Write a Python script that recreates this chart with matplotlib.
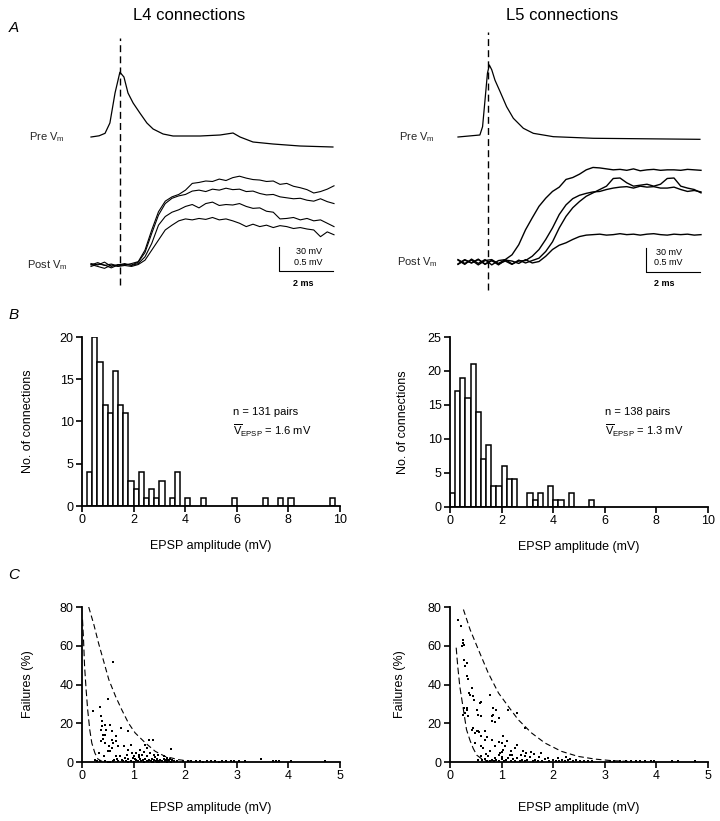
import matplotlib
matplotlib.use("Agg")
import matplotlib.pyplot as plt

plt.rcParams["font.family"] = ["Liberation Sans", "DejaVu Sans"]
plt.rcParams["mathtext.fontset"] = "custom"
plt.rcParams["mathtext.rm"] = "Liberation Sans"
plt.rcParams["mathtext.it"] = "Liberation Sans:italic"

W, H = 720, 821

# ---- A: example traces (time in ms, pre in mV, post in mV) ----
T_POST = [0.0, 0.25, 0.5, 0.75, 1.0, 1.25, 1.5, 1.75, 2.0, 2.25, 2.5, 2.75,
          3.0, 3.25, 3.5, 3.75, 4.0, 4.25, 4.5, 4.75, 5.0, 5.25, 5.5, 5.75,
          6.0, 6.25, 6.5, 6.75, 7.0, 7.25, 7.5, 7.75, 8.0, 8.25, 8.5, 8.75, 9.0]

L4_PRE_T = [0.0, 0.3, 0.52, 0.70, 0.89, 1.07, 1.22, 1.37, 1.56, 1.81, 2.07,
            2.30, 2.67, 3.04, 4.04, 4.78, 5.26, 5.52, 6.0, 6.74, 7.74, 8.96]
L4_PRE_V = [0, 1.5, 4.6, 17.5, 55, 81, 75, 55, 42.5, 30, 17.5,
            10, 3.75, 1.25, 1.25, 2.5, 5, 0, -6.25, -8.75, -11.25, -12.5]
L4_POST = [
    [0.03, 0.00, 0.06, -0.03, 0.01, 0.00, 0.03, 0.07, 0.31, 0.73, 1.11, 1.33,
     1.42, 1.47, 1.56, 1.70, 1.72, 1.75, 1.74, 1.79, 1.76, 1.82, 1.85, 1.81,
     1.78, 1.77, 1.74, 1.75, 1.68, 1.70, 1.64, 1.61, 1.57, 1.50, 1.53, 1.58, 1.65],
    [0.00, 0.05, -0.01, 0.02, -0.02, 0.01, 0.00, 0.06, 0.26, 0.66, 1.04, 1.28,
     1.39, 1.44, 1.47, 1.54, 1.56, 1.53, 1.58, 1.56, 1.60, 1.57, 1.58, 1.53,
     1.54, 1.49, 1.46, 1.47, 1.42, 1.40, 1.38, 1.39, 1.35, 1.33, 1.38, 1.32, 1.28],
    [-0.03, 0.02, 0.00, -0.06, 0.00, 0.03, -0.01, 0.03, 0.17, 0.45, 0.83, 1.01,
     1.10, 1.15, 1.22, 1.26, 1.19, 1.28, 1.31, 1.24, 1.26, 1.25, 1.28, 1.22,
     1.18, 1.19, 1.12, 1.10, 0.96, 0.97, 0.99, 0.94, 0.97, 0.92, 0.94, 0.87, 0.80],
    [0.01, -0.03, -0.07, 0.00, -0.03, -0.01, -0.03, 0.01, 0.10, 0.31, 0.52, 0.73,
     0.83, 0.92, 0.96, 0.94, 0.97, 0.95, 0.99, 0.94, 0.96, 0.92, 0.87, 0.80,
     0.85, 0.80, 0.83, 0.78, 0.82, 0.80, 0.76, 0.78, 0.75, 0.73, 0.59, 0.69, 0.63],
]

L5_PRE_T = [0.0, 0.81, 0.91, 1.0, 1.09, 1.16, 1.25, 1.37, 1.56, 1.80, 2.05,
            2.42, 2.79, 3.53, 5.01, 8.96]
L5_PRE_V = [0, 2.5, 12.9, 46, 79.6, 90, 84, 71, 56.6, 37.9, 23.4,
            10.9, 4.6, 0.4, -1.6, -2.9]
L5_POST = [
    [0.04, -0.05, 0.06, -0.03, 0.05, -0.06, 0.03, 0.05, 0.15, 0.36, 0.67, 0.92,
     1.16, 1.33, 1.47, 1.56, 1.72, 1.76, 1.83, 1.92, 1.97, 1.96, 1.94, 1.92,
     1.93, 1.91, 1.94, 1.90, 1.92, 1.93, 1.91, 1.92, 1.92, 1.91, 1.93, 1.92, 1.91],
    [-0.04, 0.05, -0.02, 0.06, -0.05, 0.03, -0.03, 0.05, -0.04, 0.02, 0.03, 0.12,
     0.26, 0.47, 0.71, 0.99, 1.19, 1.32, 1.39, 1.43, 1.46, 1.47, 1.51, 1.54,
     1.56, 1.57, 1.54, 1.58, 1.56, 1.57, 1.54, 1.54, 1.56, 1.51, 1.47, 1.49, 1.46],
    [0.05, -0.03, 0.04, -0.06, 0.03, 0.05, -0.04, 0.02, -0.05, 0.04, -0.02, 0.03,
     0.08, 0.22, 0.42, 0.71, 0.95, 1.13, 1.26, 1.37, 1.44, 1.51, 1.58, 1.74,
     1.75, 1.65, 1.58, 1.60, 1.62, 1.58, 1.62, 1.74, 1.75, 1.58, 1.54, 1.51, 1.44],
    [-0.05, 0.04, -0.02, 0.05, -0.04, 0.03, -0.06, 0.04, 0.02, -0.03, 0.05, -0.02,
     0.01, 0.12, 0.26, 0.35, 0.40, 0.47, 0.53, 0.56, 0.57, 0.58, 0.56, 0.57,
     0.59, 0.57, 0.58, 0.56, 0.58, 0.59, 0.57, 0.56, 0.58, 0.57, 0.58, 0.56, 0.57],
]

# ---- B: amplitude histograms (0.2 mV bins, left edges) ----
L4_BIN_LEFT = [0.2, 0.4, 0.6, 0.8, 1.0, 1.2, 1.4, 1.6, 1.8, 2.0, 2.2, 2.4, 2.6,
               2.8, 3.0, 3.4, 3.6, 4.0, 4.6, 5.8, 7.0, 7.6, 8.0, 9.6]
L4_COUNTS = [4, 20, 17, 12, 11, 16, 12, 11, 3, 2, 4, 1, 2,
             1, 3, 1, 4, 1, 1, 1, 1, 1, 1, 1]
L5_BIN_LEFT = [0.0, 0.2, 0.4, 0.6, 0.8, 1.0, 1.2, 1.4, 1.6, 1.8, 2.0, 2.2, 2.4,
               3.0, 3.2, 3.4, 3.8, 4.0, 4.2, 4.6, 5.4]
L5_COUNTS = [2, 17, 19, 16, 21, 14, 7, 9, 3, 3, 6, 4, 4,
             2, 1, 2, 3, 1, 1, 2, 1]

# ---- C: failures vs amplitude (mV, %) ----
L4_POINTS = [
    (0.61, 51.6), (0.50, 32.7), (0.21, 26.2), (0.34, 28.4), (0.37, 23.9), (0.39, 21),
    (0.44, 19.3), (0.55, 19.3), (0.37, 16.7), (0.40, 14), (0.45, 14), (0.37, 10.7),
    (0.44, 9.8), (0.58, 15.8), (0.65, 13.3), (0.75, 17.6), (0.89, 15.8), (0.52, 8.1),
    (0.55, 5.5), (0.58, 11.5), (0.70, 8.4), (0.81, 8.1), (0.95, 9), (0.97, 4.6),
    (1.13, 6.4), (1.23, 9), (1.29, 11.5), (1.37, 11.5), (1.26, 7.2), (1.16, 3.8),
    (1.32, 4.6), (1.48, 3.8), (1.72, 6.7), (0.42, 2.9), (0.32, 4.6), (0.65, 2.9),
    (0.74, 2.9), (0.84, 2.0), (0.26, 1.2), (0.41, 12), (0.46, 16.5), (0.39, 18.5),
    (0.61, 9.8), (0.66, 10.7), (0.58, 7.2), (0.50, 5.5), (0.90, 6.4), (1.00, 2.9),
    (1.10, 3.8), (1.26, 2.9), (1.39, 3.8), (1.58, 2.9), (1.65, 2.0),
    (0.35, 0.3), (0.45, 0.5), (0.55, 0.2), (0.62, 1.0), (0.70, 0.5), (0.78, 1.2),
    (0.85, 0.3), (0.90, 1.5), (0.95, 0.6), (1.00, 0.2), (1.02, 1.3), (1.05, 0.8),
    (1.08, 0.3), (1.12, 1.5), (1.15, 0.5), (1.18, 1.0), (1.20, 0.2), (1.22, 1.8),
    (1.25, 0.7), (1.28, 0.3), (1.30, 1.2), (1.33, 0.5), (1.36, 1.6), (1.38, 0.2),
    (1.40, 0.9), (1.43, 0.4), (1.45, 1.4), (1.48, 0.6), (1.50, 0.2), (1.52, 1.1),
    (1.55, 0.5), (1.58, 1.5), (1.60, 0.3), (1.63, 0.8), (1.66, 1.2), (1.68, 0.4),
    (1.70, 1.6), (1.72, 0.2), (1.75, 0.9), (0.90, 0.2), (0.98, 2.2), (1.10, 2.4),
    (1.95, 0.4), (2.05, 0.3), (2.12, 0.5), (2.20, 0.3), (2.28, 0.4), (2.35, 0.2),
    (2.42, 0.5), (2.50, 0.3), (2.58, 0.4), (2.65, 0.2), (2.72, 0.5), (2.80, 0.3),
    (2.88, 0.4), (2.95, 0.3), (3.05, 0.5), (3.15, 0.3),
    (3.46, 1.5), (3.70, 0.7), (3.76, 0.7), (3.82, 0.6), (4.05, 0.3), (4.70, 0.7),
    (0.50, 0.2), (0.60, 0.4), (0.80, 0.6), (1.35, 0.2), (1.45, 0.2), (1.65, 0.2),
    (1.78, 0.5), (1.85, 0.3), (0.68, 1.8), (0.88, 3.5), (1.05, 4.4), (1.20, 5.2),
    (1.42, 2.5), (0.30, 0.3),
]
L5_POINTS = [
    (0.16, 73.5), (0.21, 70), (0.26, 62.8), (0.27, 60.6), (0.24, 59.7), (0.28, 52.8),
    (0.32, 51.1), (0.30, 49.4), (0.32, 44.2), (0.35, 42.9), (0.42, 38.2), (0.39, 34.8),
    (0.45, 33.9), (0.47, 32.2), (0.61, 30.8), (0.77, 34.8), (0.28, 27.9), (0.32, 27),
    (0.26, 24.4), (0.35, 23.6), (0.52, 27), (0.55, 24.4), (0.60, 23.6), (0.84, 27.9),
    (0.90, 27), (0.81, 23.6), (0.81, 21), (0.94, 22.7), (1.13, 27), (1.29, 25.3),
    (1.46, 17.6), (0.42, 16.7), (0.48, 15), (0.55, 15.8), (0.68, 15.8), (0.60, 13.3),
    (0.68, 11.5), (0.48, 9.8), (0.61, 8.1), (0.81, 11.5), (0.87, 8.1), (1.03, 13.3),
    (1.00, 9.8), (1.06, 8.1), (1.03, 6.4), (0.97, 4.6), (1.10, 10.7), (1.19, 5.5),
    (1.26, 7.2), (1.29, 9), (1.16, 3.8), (1.42, 5.5), (1.48, 4.6), (1.57, 5),
    (1.63, 4.3), (1.77, 4.6), (1.45, 2.9), (0.74, 2.9), (0.87, 2), (0.94, 3.8),
    (0.25, 61.5), (0.37, 35.5), (0.52, 16.2), (0.57, 15.5), (0.45, 17.5), (0.72, 12.8),
    (0.64, 7), (0.78, 5.5), (1.01, 5), (0.95, 10.5), (0.88, 20.5), (0.84, 24.5),
    (0.30, 25.5), (0.33, 28), (0.58, 30.5),
    (0.62, 0.8), (0.68, 1.5), (0.72, 0.3), (0.78, 0.6), (0.82, 1.2), (0.86, 0.3),
    (0.90, 1.0), (0.95, 0.5), (1.00, 1.4), (1.04, 0.3), (1.08, 0.8), (1.12, 2.2),
    (1.18, 0.5), (1.22, 1.5), (1.25, 0.3), (1.30, 2.0), (1.35, 0.6), (1.40, 1.2),
    (1.45, 0.3), (1.50, 0.8), (1.55, 2.5), (1.60, 0.4), (1.65, 1.1), (1.70, 0.3),
    (1.78, 0.6), (1.85, 1.5), (1.92, 0.4), (2.00, 0.9), (2.05, 0.3), (2.12, 0.7),
    (2.18, 1.2), (2.22, 0.4), (2.28, 0.8), (2.32, 1.6), (2.38, 0.3), (2.45, 0.9),
    (2.52, 0.5), (2.60, 0.4), (2.68, 0.6), (2.75, 0.3),
    (3.10, 0.6), (3.18, 0.4), (3.30, 0.5), (3.42, 0.3), (3.50, 0.4), (3.60, 0.5),
    (3.68, 0.3), (3.78, 0.4), (3.90, 0.5), (3.96, 0.3), (4.30, 0.4), (4.42, 0.3),
    (4.75, 0.4),
    (0.55, 1.2), (0.60, 3.2), (1.20, 3.6), (1.38, 3.8), (1.72, 2.8), (1.90, 2.1),
    (2.25, 2.6), (2.10, 1.9), (1.00, 2.5), (0.70, 4.0),
]
# bounding dashed curves
L4_HI_X = [0.13, 0.23, 0.32, 0.42, 0.52, 0.65, 0.77, 0.90, 1.03, 1.23, 1.42, 1.61, 1.87, 2.13]
L4_HI_Y = [80, 70.9, 61.4, 52, 42.5, 33.9, 27, 20.1, 15, 9.8, 5.5, 2.9, 1.2, 0.3]
L4_LO_X = [0.01, 0.03, 0.05, 0.08, 0.11, 0.15, 0.19, 0.25, 0.31, 0.39]
L4_LO_Y = [73.5, 63, 49.4, 37.3, 27, 16.7, 9.8, 4.6, 1.5, 0.3]
L5_HI_X = [0.26, 0.39, 0.55, 0.74, 0.94, 1.13, 1.32, 1.58, 1.84, 2.16, 2.48, 2.81, 3.13, 3.52]
L5_HI_Y = [78.7, 68.3, 58, 46, 35.6, 28.7, 21.9, 15, 9.8, 5.5, 2.9, 1.5, 0.7, 0.2]
L5_LO_X = [0.12, 0.15, 0.19, 0.26, 0.32, 0.39, 0.45, 0.52, 0.65, 0.81]
L5_LO_Y = [59, 49.4, 39, 27, 16.7, 11, 7, 3.5, 0.9, 0.0]

PX_MS, PX_MV = 27.0, 48.0          # trace scaling (pixels per ms / per post mV)
BAR_MS, BAR_PRE, BAR_POST = 2, 30, 0.5


def px_axes(fig, x0, y0, x1, y1):
    return fig.add_axes([x0 / W, 1 - y1 / H, (x1 - x0) / W, (y1 - y0) / H])


def trace_panel(fig, box, t0_px, base_px, pre_px, pre_t, pre_v, posts,
                spike, dash, bar, txt_x, ms_x, lw_post):
    x0, y0, x1, y1 = box
    ax = px_axes(fig, *box)
    ax.set_xlim((x0 - t0_px) / PX_MS, (x1 - t0_px) / PX_MS)
    ax.set_ylim((base_px - y1) / PX_MV, (base_px - y0) / PX_MV)
    ax.axis("off")
    off = (base_px - pre_px) / PX_MV
    ax.plot(pre_t, [off + v * BAR_POST / BAR_PRE for v in pre_v], color="k", lw=0.9)
    for v in posts:
        ax.plot(T_POST, v, color="k", lw=lw_post)
    ax.plot([spike, spike], dash, color="k", lw=1.0, ls=(0, (5, 3)))
    bx, by = bar
    ax.plot([bx, bx, bx + BAR_MS], [by + BAR_POST, by, by], color="k", lw=0.8)
    ax.text(txt_x, by + 0.40, "30 mV", fontsize=6.5, ha="right", va="center")
    ax.text(txt_x, by + 0.18, "0.5 mV", fontsize=6.5, ha="right", va="center")
    ax.text(ms_x, by - 0.25, "2 ms", fontsize=6.5, ha="center", va="center",
            fontweight="bold")
    ax.text((x0 - t0_px) / PX_MS - 0.55, off, r"Pre V$_{\mathrm{m}}$",
            fontsize=8, ha="right", va="center", color="0.15")
    ax.text((x0 - t0_px) / PX_MS - 0.45, 0, r"Post V$_{\mathrm{m}}$",
            fontsize=8, ha="right", va="center", color="0.15")


def style(ax, xt, yt):
    for s in ("top", "right"):
        ax.spines[s].set_visible(False)
    for s in ("left", "bottom"):
        ax.spines[s].set_linewidth(1.3)
    ax.set_xticks(xt)
    ax.set_yticks(yt)
    ax.tick_params(direction="out", length=4, width=1.2, labelsize=9, pad=2)


def hist_panel(fig, box, edges, counts, ymax, yt, ylab_x, txt_xy, n, vbar):
    ax = px_axes(fig, *box)
    ax.bar(edges, counts, width=0.2, align="edge", facecolor="white",
           edgecolor="k", lw=1.1)
    ax.set_xlim(0, 10)
    ax.set_ylim(0, ymax)
    style(ax, [0, 2, 4, 6, 8, 10], yt)
    ax.set_xlabel("EPSP amplitude (mV)", fontsize=9, va="center")
    ax.xaxis.set_label_coords(0.5, -0.237)
    ax.set_ylabel("No. of connections", fontsize=9, va="center")
    ax.yaxis.set_label_coords(ylab_x, 0.5)
    tx, ty = txt_xy
    ax.text(tx, ty, f"n = {n} pairs", fontsize=8, va="center")
    ax.text(tx, ty - ymax * 0.11, r"$\overline{\mathrm{V}}_{\mathrm{EPSP}}$" + f" = {vbar} mV",
            fontsize=8, va="center")


def fail_panel(fig, box, pts, hi_x, hi_y, lo_x, lo_y, ylab_x):
    ax = px_axes(fig, *box)
    amp = [p[0] for p in pts]
    fail = [p[1] for p in pts]
    ax.plot(hi_x, hi_y, color="k", lw=0.8, ls=(0, (5, 3)))
    ax.plot(lo_x, lo_y, color="k", lw=0.8, ls=(0, (6, 3)))
    ax.plot(amp, fail, "s", color="k", ms=2.1, mew=0, clip_on=False)
    ax.set_xlim(0, 5)
    ax.set_ylim(0, 80)
    style(ax, [0, 1, 2, 3, 4, 5], [0, 20, 40, 60, 80])
    ax.set_xlabel("EPSP amplitude (mV)", fontsize=9, va="center")
    ax.xaxis.set_label_coords(0.5, -0.297)
    ax.set_ylabel("Failures (%)", fontsize=9, va="center")
    ax.yaxis.set_label_coords(ylab_x, 0.5)


def main():
    fig = plt.figure(figsize=(W / 100, H / 100), dpi=100)

    trace_panel(fig, (80, 30, 345, 295), 91, 265, 137, L4_PRE_T, L4_PRE_V, L4_POST,
                1.07, (-0.42, 4.73), (6.96, -0.125), 8.56, 7.85, 0.8)
    trace_panel(fig, (450, 30, 712, 295), 458, 262, 137, L5_PRE_T, L5_PRE_V, L5_POST,
                1.11, (-0.58, 4.79), (6.96, -0.2), 8.3, 7.63, 1.0)

    hist_panel(fig, (82, 337, 340, 506), L4_BIN_LEFT, L4_COUNTS, 20,
               [0, 5, 10, 15, 20], -0.209, (5.85, 11.1), 131, 1.6)
    hist_panel(fig, (450, 337, 708, 506.5), L5_BIN_LEFT, L5_COUNTS, 25,
               [0, 5, 10, 15, 20, 25], -0.182, (6.0, 13.9), 138, 1.3)

    fail_panel(fig, (82, 607, 340, 762), L4_POINTS, L4_HI_X, L4_HI_Y,
               L4_LO_X, L4_LO_Y, -0.209)
    fail_panel(fig, (450, 607, 708, 762), L5_POINTS, L5_HI_X, L5_HI_Y,
               L5_LO_X, L5_LO_Y, -0.194)

    fig.text(189 / W, 1 - 15 / H, "L4 connections", fontsize=12, ha="center", va="center")
    fig.text(562 / W, 1 - 15 / H, "L5 connections", fontsize=12, ha="center", va="center")
    for lab, y in (("A", 28), ("B", 315), ("C", 575)):
        fig.text(14 / W, 1 - y / H, lab, fontsize=11, style="italic",
                 ha="center", va="center")

    fig.savefig("out.png", dpi=100)


if __name__ == "__main__":
    main()
